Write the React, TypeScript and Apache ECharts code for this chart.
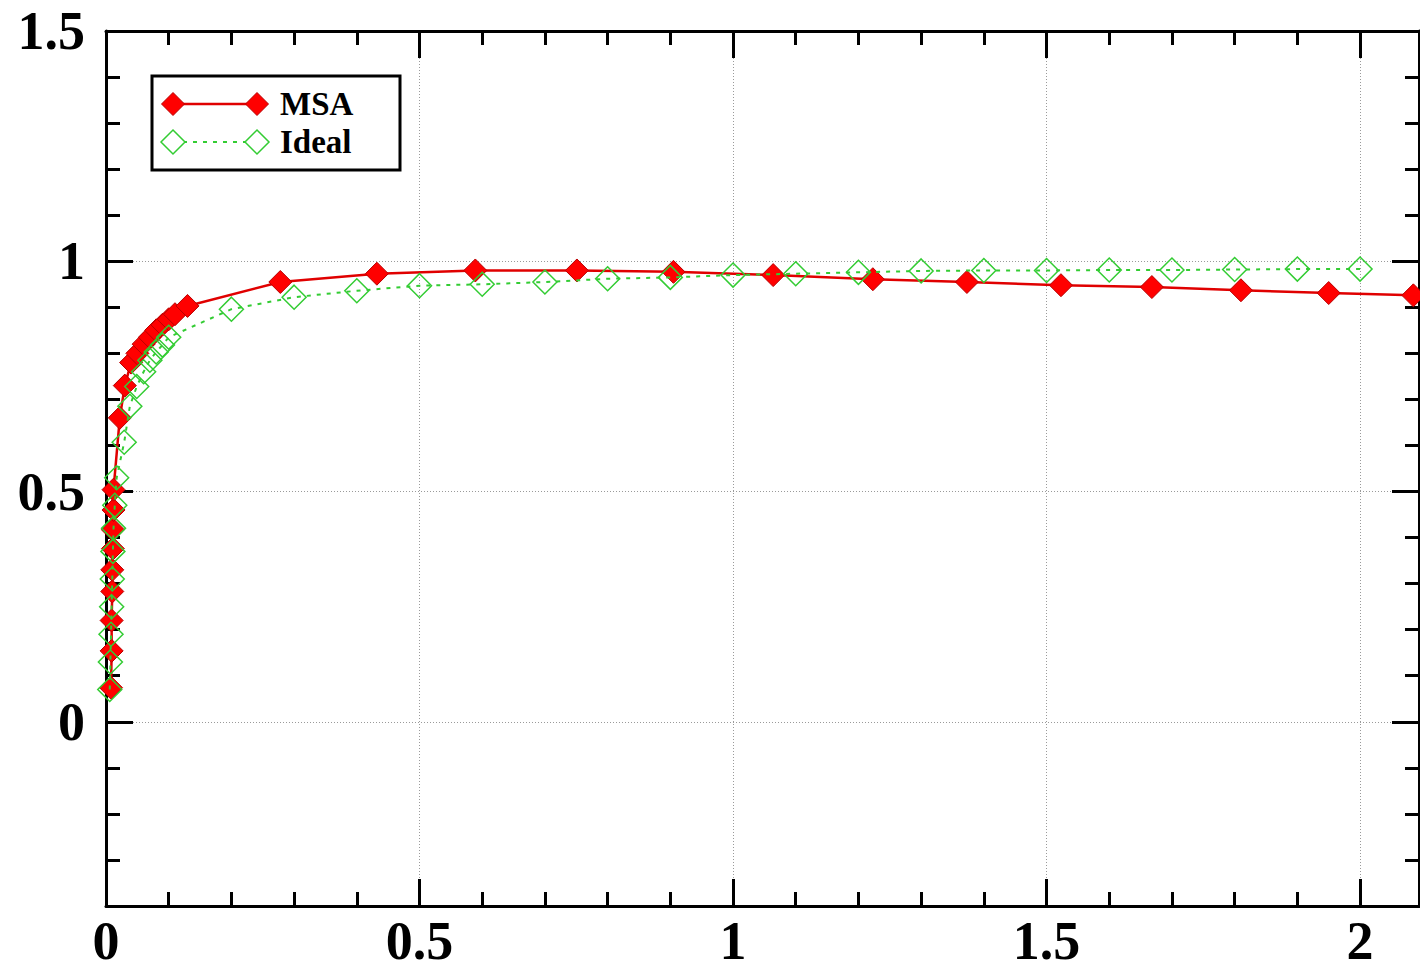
import React, { useEffect, useRef } from 'react';
import * as echarts from 'echarts';

const seriesNames = ['MSA', 'Ideal'];

const msaX = [0.008, 0.009, 0.009, 0.010, 0.010, 0.011, 0.011, 0.012, 0.012, 0.022, 0.030, 0.040, 0.050, 0.060, 0.070, 0.080, 0.090, 0.100, 0.110, 0.130, 0.278, 0.432, 0.589, 0.751, 0.905, 1.064, 1.223, 1.373, 1.523, 1.668, 1.810, 1.950, 2.085];
const msaY = [0.074, 0.154, 0.220, 0.283, 0.330, 0.376, 0.417, 0.460, 0.504, 0.660, 0.730, 0.780, 0.800, 0.820, 0.835, 0.850, 0.862, 0.874, 0.885, 0.903, 0.955, 0.973, 0.980, 0.980, 0.977, 0.970, 0.961, 0.955, 0.948, 0.944, 0.937, 0.931, 0.926];

const idealX = [0.006, 0.007, 0.008, 0.009, 0.010, 0.011, 0.012, 0.014, 0.017, 0.029, 0.038, 0.049, 0.060, 0.070, 0.080, 0.090, 0.100, 0.2, 0.3, 0.4, 0.5, 0.6, 0.7, 0.8, 0.9, 1.0, 1.1, 1.2, 1.3, 1.4, 1.5, 1.6, 1.7, 1.8, 1.9, 2.0];
const idealY = [0.070, 0.130, 0.190, 0.250, 0.310, 0.370, 0.420, 0.470, 0.530, 0.607, 0.685, 0.728, 0.760, 0.785, 0.803, 0.818, 0.835, 0.896, 0.922, 0.936, 0.947, 0.950, 0.955, 0.962, 0.965, 0.970, 0.973, 0.976, 0.979, 0.980, 0.980, 0.981, 0.981, 0.982, 0.983, 0.983];

const xTickLabels = [0, 0.5, 1, 1.5, 2];
const yTickLabels = [0, 0.5, 1, 1.5];
const xRange = [0, 2.094];
const yRange = [-0.4, 1.5];

export default function App() {
  const ref = useRef<HTMLDivElement>(null);
  useEffect(() => {
    const chart = echarts.init(ref.current as HTMLDivElement, null, { renderer: 'svg' });
    const fmt = (ticks: number[]) => (v: number) =>
      ticks.some((t) => Math.abs(t - v) < 1e-6) ? String(Math.abs(v) < 1e-9 ? 0 : v) : '';
    const labelFont = {
      fontFamily: '"Liberation Serif", "Times New Roman", serif',
      fontWeight: 'bold' as const,
      fontSize: 54,
      color: '#000',
    };
    const blk = { color: '#000', width: 3 };
    const grid = { color: '#9a9a9a', width: 1, type: [1, 2] };
    const common = (isX: boolean, main: boolean) => ({
      type: 'value',
      min: isX ? xRange[0] : yRange[0],
      max: isX ? xRange[1] : yRange[1],
      ...(isX ? { interval: 0.5 } : { minInterval: 0.5, maxInterval: 0.5, splitNumber: 4 }),
      axisLine: { show: true, onZero: false, lineStyle: blk },
      axisTick: { show: true, inside: true, length: 27, lineStyle: blk },
      minorTick: { show: true, splitNumber: 5, length: 14, lineStyle: blk },
      minorSplitLine: { show: false },
      splitLine: { show: main, lineStyle: grid },
      axisLabel: main
        ? {
            show: true,
            ...labelFont,
            lineHeight: isX ? 40 : 54,
            margin: isX ? 15 : 21,
            formatter: fmt(isX ? xTickLabels : yTickLabels),
          }
        : { show: false },
    });

    const diamond = (cx: number, cy: number, r: number) => [
      [cx, cy - r],
      [cx + r, cy],
      [cx, cy + r],
      [cx - r, cy],
    ];
    const legendFont = { fontFamily: '"Liberation Serif", "Times New Roman", serif', fontWeight: 'bold', fontSize: 33, fill: '#000' };

    const option: any = {
      animation: false,
      backgroundColor: '#fff',
      grid: { left: 106, right: 1, top: 31, bottom: 67, containLabel: false, outerBoundsMode: 'none' },
      xAxis: [
        { ...common(true, true), position: 'bottom' },
        { ...common(true, false), position: 'top' },
      ],
      yAxis: [
        { ...common(false, true), position: 'left' },
        { ...common(false, false), position: 'right' },
      ],
      series: [
        {
          name: seriesNames[0],
          type: 'line',
          xAxisIndex: 0,
          yAxisIndex: 0,
          data: msaX.map((x, i) => [x, msaY[i]]),
          symbol: 'diamond',
          symbolSize: 23,
          lineStyle: { color: '#e00000', width: 2.5 },
          itemStyle: { color: '#ff0000', borderColor: '#b80000', borderWidth: 1 },
          emphasis: { disabled: true },
          silent: true,
          z: 2,
        },
        {
          name: seriesNames[1],
          type: 'line',
          xAxisIndex: 0,
          yAxisIndex: 0,
          data: idealX.map((x, i) => [x, idealY[i]]),
          symbol: 'diamond',
          symbolSize: 24,
          lineStyle: { color: '#33cc33', width: 2, type: [4, 6] },
          itemStyle: { color: 'rgba(255,255,255,0)', borderColor: '#33cc33', borderWidth: 1.5 },
          emphasis: { disabled: true },
          silent: true,
          z: 3,
        },
      ],
      graphic: [
        { type: 'rect', z: 100, shape: { x: 152, y: 76, width: 248, height: 94 }, style: { fill: '#fff', stroke: '#000', lineWidth: 3 } },
        { type: 'line', z: 101, shape: { x1: 173, y1: 104, x2: 257, y2: 104 }, style: { stroke: '#e00000', lineWidth: 2.5 } },
        { type: 'polygon', z: 102, shape: { points: diamond(173, 104, 11.5) }, style: { fill: '#ff0000', stroke: '#b80000', lineWidth: 1 } },
        { type: 'polygon', z: 102, shape: { points: diamond(257, 104, 11.5) }, style: { fill: '#ff0000', stroke: '#b80000', lineWidth: 1 } },
        { type: 'line', z: 101, shape: { x1: 173, y1: 142, x2: 257, y2: 142 }, style: { stroke: '#33cc33', lineWidth: 2, lineDash: [4, 6] } },
        { type: 'polygon', z: 102, shape: { points: diamond(173, 142, 12) }, style: { fill: '#fff', stroke: '#33cc33', lineWidth: 1.5 } },
        { type: 'polygon', z: 102, shape: { points: diamond(257, 142, 12) }, style: { fill: '#fff', stroke: '#33cc33', lineWidth: 1.5 } },
        { type: 'text', z: 103, x: 280, y: 104, style: { text: seriesNames[0], ...legendFont, verticalAlign: 'middle' } },
        { type: 'text', z: 103, x: 280, y: 142, style: { text: seriesNames[1], ...legendFont, verticalAlign: 'middle' } },
      ],
    };
    chart.setOption(option);
    return () => chart.dispose();
  }, []);
  return (
    <div
      ref={ref}
      style={{ position: 'fixed', left: 0, top: 0, width: 1420, height: 973, background: '#fff' }}
    />
  );
}
